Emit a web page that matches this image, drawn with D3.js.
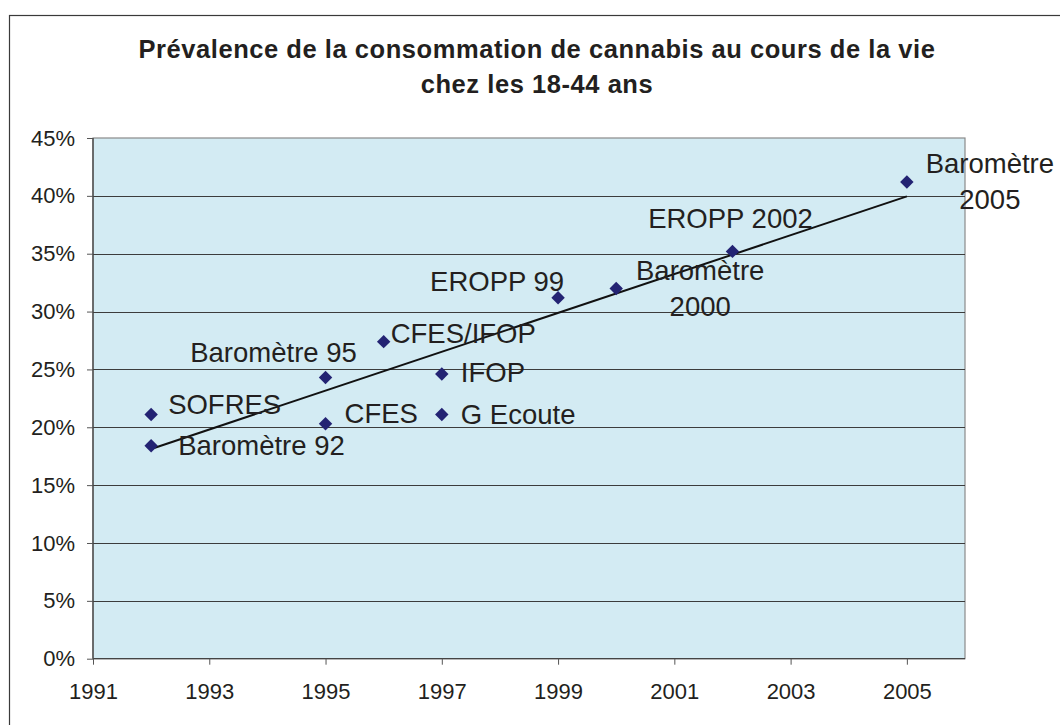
<!DOCTYPE html>
<meta charset="utf-8">
<style>

    body {
        margin: 0;
        background: #fff;
    }

    text {
        font-family: "Liberation Sans", Arial, sans-serif;
        fill: #231f20;
    }

    .title {
        font-size: 25.5px;
        font-weight: bold;
        letter-spacing: 0.55px;
        text-anchor: middle;
    }

    .label {
        font-size: 27.5px;
    }

</style>

<svg width="1060" height="725"></svg>
<script src="https://d3js.org/d3.v7.min.js"></script>

<script>
    // enquêtes, année et prévalence vie entière (18-44 ans)
    var sources = ["Baromètre 92", "SOFRES", "Baromètre 95", "CFES", "CFES/IFOP", "IFOP",
        "G Ecoute", "EROPP 99", "Baromètre 2000", "EROPP 2002", "Baromètre 2005"];
    var years = [1992, 1992, 1995, 1995, 1996, 1997, 1997, 1999, 2000, 2002, 2005];
    var prevalence = [0.184, 0.211, 0.243, 0.203, 0.274, 0.246, 0.211, 0.312, 0.320, 0.352, 0.412];

    var xTicks = [1991, 1993, 1995, 1997, 1999, 2001, 2003, 2005];
    var yTicks = [0, 0.05, 0.10, 0.15, 0.20, 0.25, 0.30, 0.35, 0.40, 0.45];

    var titleLines = ["Prévalence de la consommation de cannabis au cours de la vie",
        "chez les 18-44 ans"];

    // placement des étiquettes : décalage par rapport au point, ancrage, retour à la ligne
    var labelPlacement = [
        [27, 9, "start", false],
        [17, -1, "start", false],
        [-52, -16, "middle", false],
        [19, -1, "start", false],
        [7, 1, "start", false],
        [19, 8, "start", false],
        [19, 9, "start", false],
        [6, -7, "end", false],
        [84, -8, "middle", true],
        [-2, -23, "middle", false],
        [83, -9, "middle", true]
    ];

    var svg = d3.select("svg");

    var x = d3.scaleLinear().domain([1991, 2006]).range([93, 965]),
        y = d3.scaleLinear().domain([0, 0.45]).range([658.7, 138]);

    // cadre extérieur (coupé à droite et en bas)
    svg.append("rect")
        .attr("x", 9.5).attr("y", 15.5)
        .attr("width", 1100).attr("height", 800)
        .attr("fill", "#fff")
        .attr("stroke", "#3a3a3a")
        .attr("stroke-width", 1.2);

    svg.selectAll(".title")
        .data(titleLines)
        .enter().append("text")
        .attr("class", "title")
        .attr("x", 537)
        .attr("y", function (d, i) { return 58 + i * 35; })
        .text(function (d) { return d; });

    // zone de tracé
    svg.append("rect")
        .attr("x", x.range()[0]).attr("y", y.range()[1])
        .attr("width", x.range()[1] - x.range()[0])
        .attr("height", y.range()[0] - y.range()[1])
        .attr("fill", "#d3ebf3")
        .attr("stroke", "#8a8a8a")
        .attr("stroke-width", 1.2);

    svg.append("g")
        .selectAll("line")
        .data(yTicks.filter(function (d) { return d > 0 && d < 0.45; }))
        .enter().append("line")
        .attr("x1", x.range()[0]).attr("x2", x.range()[1])
        .attr("y1", function (d) { return Math.round(y(d)) + 0.5; })
        .attr("y2", function (d) { return Math.round(y(d)) + 0.5; })
        .attr("stroke", "#3c3c3c")
        .attr("stroke-width", 1.1);

    var yAxis = svg.append("g")
        .attr("transform", "translate(" + x.range()[0] + ",0)")
        .call(d3.axisLeft(y).tickValues(yTicks).tickSize(6).tickPadding(12)
            .tickFormat(d3.format(".0%")));

    var xAxis = svg.append("g")
        .attr("transform", "translate(0," + y.range()[0] + ")")
        .call(d3.axisBottom(x).tickValues(xTicks).tickSize(6).tickPadding(19)
            .tickFormat(d3.format("d")));

    [yAxis, xAxis].forEach(function (a) {
        a.attr("font-family", null).attr("font-size", null);
        a.select(".domain").attr("stroke", "#444").attr("stroke-width", 1.3);
        a.selectAll(".tick line").attr("stroke", "#555");
        a.selectAll(".tick text").attr("fill", "#231f20").style("font-size", "22px");
    });
    xAxis.select(".domain").attr("d", "M" + x.range()[0] + ",0H" + x.range()[1]);
    yAxis.select(".domain").attr("d", "M0," + y.range()[0] + "V" + y.range()[1]);

    // courbe de tendance linéaire (moindres carrés)
    var mx = d3.mean(years), my = d3.mean(prevalence);
    var sxy = d3.sum(years, function (d, i) { return (d - mx) * (prevalence[i] - my); }),
        sxx = d3.sum(years, function (d) { return (d - mx) * (d - mx); });
    var slope = sxy / sxx, icpt = my - slope * mx;
    var xExt = d3.extent(years);

    svg.append("path")
        .datum(xExt)
        .attr("d", d3.line()
            .x(function (d) { return x(d); })
            .y(function (d) { return y(icpt + slope * d); }))
        .attr("fill", "none")
        .attr("stroke", "#111")
        .attr("stroke-width", 2);

    var pts = sources.map(function (s, i) {
        return { name: s, year: years[i], value: prevalence[i], place: labelPlacement[i] };
    });

    svg.append("g")
        .selectAll("path")
        .data(pts)
        .enter().append("path")
        .attr("transform", function (d) { return "translate(" + x(d.year) + "," + y(d.value) + ")"; })
        .attr("d", d3.symbol().type(d3.symbolDiamond2).size(115))
        .attr("fill", "#232373");

    var labels = svg.append("g")
        .selectAll("text")
        .data(pts)
        .enter().append("text")
        .attr("class", "label")
        .attr("text-anchor", function (d) { return d.place[2]; })
        .attr("transform", function (d) {
            return "translate(" + (x(d.year) + d.place[0]) + "," + (y(d.value) + d.place[1]) + ")";
        });

    labels.selectAll("tspan")
        .data(function (d) { return d.place[3] ? d.name.split(" ") : [d.name]; })
        .enter().append("tspan")
        .attr("x", 0)
        .attr("y", function (d, i) { return i * 36; })
        .text(function (d) { return d; });

</script>
